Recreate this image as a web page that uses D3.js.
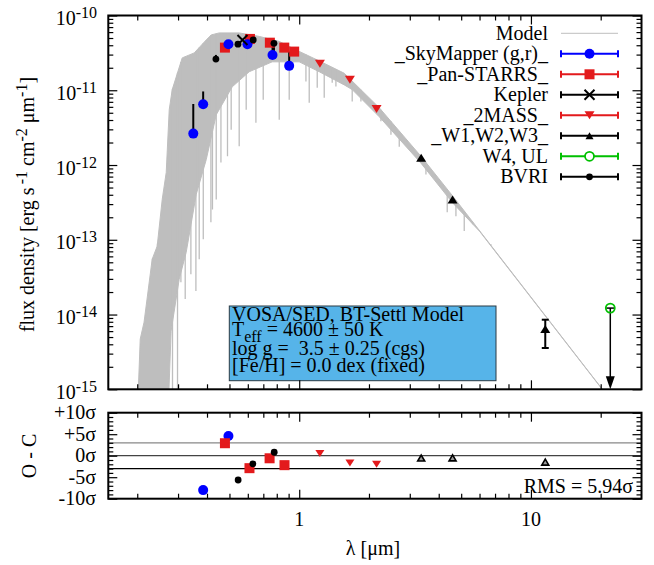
<!DOCTYPE html>
<html><head><meta charset="utf-8">
<script src="https://cdn.jsdelivr.net/npm/d3@7"></script>
<style>
body{margin:0;background:#fff}
svg{display:block}
text{font-family:"Liberation Serif","Times New Roman",serif;fill:#000}
</style>
</head><body>
<svg id="c" width="654" height="565"></svg>
<script>
// ---------------- data ----------------
// model spectrum: upper envelope (continuum) and lower envelope of the dense line forest
const modelHiWl = [0.2019,0.206,0.214,0.232,0.2438,0.2563,0.2667,0.2748,0.2831,0.3126,0.3523,0.3969,0.4172,0.4516,0.5508,0.6723,0.82,1.0,1.22,1.564,2.214,3.36,4.575,20.1,30];
const modelHi   = [9e-16,4.7e-15,7.9e-15,5.5e-14,8.2e-14,3.47e-13,7.94e-13,5.5e-12,1.02e-11,2.71e-11,3.16e-11,4.71e-11,5.5e-11,5.85e-11,5.85e-11,5.25e-11,4.5e-11,3.31e-11,2.47e-11,1.69e-11,5.85e-12,1.3e-12,3.92e-13,1.05e-15,2.1e-16];
const modelLoWl = [0.2019,0.2667,0.2800,0.3034,0.3253,0.3594,0.3969,0.4384,0.5138,0.6085,0.7647,1.0,1.22,1.564,1.693,2.214,3.36,4.575,6.0,30];
const modelLo   = [1e-16,1e-16,6e-15,2.97e-14,6.8e-14,4.05e-13,1.18e-12,4.7e-12,1.11e-11,1.77e-11,2.4e-11,2.4e-11,1.77e-11,1.18e-11,1.02e-11,4.43e-12,1.05e-12,3.16e-13,1.3e-13,2.1e-16];
// deep absorption lines (wavelength, minimum flux)
const lineWl   = [0.2327,0.2445,0.2839,0.2984,0.3086,0.3221,0.3408,0.3582,0.3702,0.3854,0.4158,0.4223,0.4384,0.4594,0.4903,0.5086,0.5508,0.5904,0.6503,0.6993,0.82,0.9054,1.069,1.1045,1.196,1.282,1.388,1.44,1.693,1.846,2.252,2.488,2.702,2.925,3.523,4.352,4.746,5.154,5.598,6.722];
const lineFlux = [5e-16,5e-16,5e-16,5e-16,2.7e-14,1.61e-14,3.47e-14,2.07e-14,5.5e-14,1.02e-13,1.71e-13,2.55e-13,3.47e-13,1.08e-12,1.31e-12,2.97e-12,1.78e-12,5.5e-12,3.69e-12,7.47e-12,4.04e-12,7.47e-12,1.31e-11,6.8e-12,1.08e-11,7.94e-12,1.26e-11,1.12e-11,7.1e-12,7.1e-12,3.84e-12,2.55e-12,1.75e-12,2.07e-12,7.47e-13,2.33e-13,2.07e-13,1.31e-13,1.61e-13,8.7e-14];

// photometry (µm, erg s-1 cm-2 µm-1)
const skyWl   = [0.349,0.385,0.495,0.598,0.767,0.905];
const skyFlux = [2.63e-12,6.5e-12,4.13e-11,4.13e-11,2.97e-11,2.12e-11];
const skyUp   = [6.55e-12,9.64e-12,null,null,4.48e-11,3.29e-11];
const panWl   = [0.478,0.613,0.747,0.862,0.951];
const panFlux = [3.72e-11,4.86e-11,4.33e-11,3.72e-11,3.29e-11];
const kepWl   = [0.569];
const kepFlux = [4.71e-11];
const tmWl    = [1.228,1.655,2.157];
const tmFlux  = [2.26e-11,1.38e-11,5.61e-12];
const wiseWl  = [3.36,4.59,11.53];
const wiseFlux= [1.25e-12,3.47e-13,6.41e-15];
const wiseLo  = [null,null,3.57e-15];
const wiseHi  = [null,null,8.53e-15];
const w4Wl    = [22.0];
const w4Flux  = [1.22e-14];
const bvriWl  = [0.437,0.544,0.633,0.778];
const bvriFlux= [2.61e-11,4.13e-11,4.71e-11,4.25e-11];
const bvriLo  = [null,null,null,3.0e-11];
const bvriHi  = [2.97e-11,null,null,null];

// residuals (O - C, in sigma)
const resSkyWl = [0.385,0.495];           const resSky = [-8.0,4.6];
const resPanWl = [0.478,0.61,0.745,0.864];  const resPan = [2.9,-2.9,-0.6,-2.2];
const resBvriWl= [0.545,0.631,0.78];       const resBvri= [-5.65,-1.9,0.8];
const res2mWl  = [1.228,1.655,2.157];      const res2m  = [0.5,-1.7,-2.0];
const resWiseWl= [3.36,4.59,11.53];        const resWise= [-0.55,-0.5,-1.5];
const rmsText = "RMS = 5.94σ";

const legendNames = ["Model","_SkyMapper (g,r)_","_Pan-STARRS_","Kepler","_2MASS_","_W1,W2,W3_","W4, UL","BVRI"];
const infoLines = ["VOSA/SED, BT-Settl Model","4600 ± 50 K","log g =\u00a0\u00a03.5 ± 0.25 (cgs)","[Fe/H] = 0.0 dex (fixed)"];
const yDecades = [-15,-14,-13,-12,-11,-10];
const resTicks = [10,5,0,-5,-10];
const resLabels = ["+10σ","+5σ","0σ","-5σ","-10σ"];
const xLabelTicks = [1,10];

// ---------------- layout ----------------
const L=108.3, R=641.5, T1=15.5, B1=389.3, T2=412.7, B2=498.7;
const BLUE="#0000ff", RED="#e31a1c", GREEN="#00c000", GRAY="#bebebe";

const x  = d3.scaleLog().domain([0.15,30]).range([L,R]);
const y  = d3.scaleLog().domain([1e-15,1e-10]).range([B1,T1]);
const yr = d3.scaleLinear().domain([-10,10]).range([B2,T2]);

const svg = d3.select("#c");
svg.append("defs").append("clipPath").attr("id","clip1")
  .append("rect").attr("x",L).attr("y",T1).attr("width",R-L).attr("height",B1-T1);

// ---------------- model ----------------
const gm = svg.append("g").attr("clip-path","url(#clip1)");
const lineGen = d3.line().x(d=>x(d[0])).y(d=>y(d[1]));
const hiPts = modelHiWl.map((w,i)=>[w,modelHi[i]]);
const loPts = modelLoWl.map((w,i)=>[w,modelLo[i]]);
gm.append("path").attr("d", lineGen(hiPts.concat(loPts.slice().reverse()))+"Z")
  .attr("fill",GRAY).attr("stroke",GRAY).attr("stroke-width",1);
const hiAt = d3.scaleLinear().domain(modelHiWl.map(w=>x(w))).range(modelHi.map(f=>y(f)));
gm.selectAll("line.spike").data(lineWl).join("line").attr("class","spike")
  .attr("x1",w=>x(w)).attr("x2",w=>x(w))
  .attr("y1",w=>hiAt(x(w))).attr("y2",(w,i)=>y(lineFlux[i]))
  .attr("stroke",GRAY).attr("stroke-width",1.3);

// ---------------- info box ----------------
const gb = svg.append("g");
gb.append("rect").attr("x",229.3).attr("y",306).attr("width",266.7).attr("height",74.7)
  .attr("fill","#56b4e9").attr("stroke","#2b3a44").attr("stroke-width",1);
const tx=232;
const it = gb.append("text").attr("x",tx).attr("y",320.7).attr("font-size",20);
it.append("tspan").attr("x",tx).text(infoLines[0]);
it.append("tspan").attr("x",tx).attr("dy",15).text("T");
it.append("tspan").attr("dy",6).attr("font-size",16).text("eff");
it.append("tspan").attr("dy",-6).text(" = "+infoLines[1]);
it.append("tspan").attr("x",tx).attr("dy",19.3).text(infoLines[2]);
it.append("tspan").attr("x",tx).attr("dy",16.7).text(infoLines[3]);

// ---------------- markers ----------------
function circ(g,cx,cy,r,fill,stroke,sw){g.append("circle").attr("cx",cx).attr("cy",cy).attr("r",r).attr("fill",fill).attr("stroke",stroke||"none").attr("stroke-width",sw||0);}
function sq(g,cx,cy,s,fill){g.append("rect").attr("x",cx-s/2).attr("y",cy-s/2).attr("width",s).attr("height",s).attr("fill",fill);}
function cross(g,cx,cy,s){const h=s/2;g.append("path").attr("d",`M${cx-h},${cy-h}L${cx+h},${cy+h}M${cx-h},${cy+h}L${cx+h},${cy-h}`).attr("stroke","#000").attr("stroke-width",2).attr("fill","none");}
function triDown(g,cx,cy,w,h,fill){g.append("path").attr("d",`M${cx-w/2},${cy-h/2}L${cx+w/2},${cy-h/2}L${cx},${cy+h/2}Z`).attr("fill",fill);}
function triUp(g,cx,cy,w,h,fill,stroke,sw){g.append("path").attr("d",`M${cx-w/2},${cy+h/2}L${cx+w/2},${cy+h/2}L${cx},${cy-h/2}Z`).attr("fill",fill).attr("stroke",stroke||"none").attr("stroke-width",sw||0);}
function vbar(g,xx,y1,y2,cap){g.append("line").attr("x1",xx).attr("x2",xx).attr("y1",y1).attr("y2",y2).attr("stroke","#000").attr("stroke-width",2);
  if(cap){[y1,y2].forEach(yy=>g.append("line").attr("x1",xx-cap/2).attr("x2",xx+cap/2).attr("y1",yy).attr("y2",yy).attr("stroke","#000").attr("stroke-width",2));}}

const gp = svg.append("g");
// error bars
skyWl.forEach((w,i)=>{ if(skyUp[i]) vbar(gp,x(w),y(skyFlux[i]),y(skyUp[i])); });
bvriWl.forEach((w,i)=>{ if(bvriHi[i]) vbar(gp,x(w),y(bvriFlux[i]),y(bvriHi[i])); if(bvriLo[i]) vbar(gp,x(w),y(bvriFlux[i]),y(bvriLo[i])); });
wiseWl.forEach((w,i)=>{ if(wiseLo[i]) vbar(gp,x(w),y(wiseLo[i]),y(wiseHi[i]),7); });
// W4 upper limit arrow
w4Wl.forEach((w,i)=>{
  const xx=x(w), yy=y(w4Flux[i]);
  gp.append("line").attr("x1",xx).attr("x2",xx).attr("y1",yy).attr("y2",B1-12).attr("stroke","#000").attr("stroke-width",1.5);
  gp.append("path").attr("d",`M${xx-4.5},${B1-13}L${xx+4.5},${B1-13}L${xx},${B1}Z`).attr("fill","#000");
  gp.append("line").attr("x1",xx-4).attr("x2",xx+4).attr("y1",yy).attr("y2",yy).attr("stroke","#000").attr("stroke-width",1.5);
  circ(gp,xx,yy,4.5,"none",GREEN,1.8);
});
panWl.forEach((w,i)=>sq(gp,x(w),y(panFlux[i]),10,RED));
skyWl.forEach((w,i)=>circ(gp,x(w),y(skyFlux[i]),5,BLUE));
bvriWl.forEach((w,i)=>circ(gp,x(w),y(bvriFlux[i]),3.4,"#000"));
kepWl.forEach((w,i)=>cross(gp,x(w),y(kepFlux[i]),10));
tmWl.forEach((w,i)=>triDown(gp,x(w),y(tmFlux[i]),10,8,RED));
wiseWl.forEach((w,i)=>triUp(gp,x(w),y(wiseFlux[i]),10,8,"#000"));

// ---------------- residual panel ----------------
const gr = svg.append("g");
[[3,"#888"],[0,"#444"],[-3,"#000"]].forEach(([v,c])=>gr.append("line").attr("x1",L).attr("x2",R).attr("y1",yr(v)).attr("y2",yr(v)).attr("stroke",c).attr("stroke-width",1.2));
resSkyWl.forEach((w,i)=>circ(gr,x(w),yr(resSky[i]),5,BLUE));
resPanWl.forEach((w,i)=>sq(gr,x(w),yr(resPan[i]),10,RED));
resBvriWl.forEach((w,i)=>circ(gr,x(w),yr(resBvri[i]),3.4,"#000"));
res2mWl.forEach((w,i)=>triDown(gr,x(w),yr(res2m[i]),9,7,RED));
resWiseWl.forEach((w,i)=>triUp(gr,x(w),yr(resWise[i]),7,6,"#999","#000",1.6));
gr.append("text").attr("x",633).attr("y",493).attr("font-size",20).attr("text-anchor","end").text(rmsText);

// ---------------- axes / ticks ----------------
const xMinor=[0.2,0.3,0.4,0.5,0.6,0.7,0.8,0.9,2,3,4,5,6,7,8,9,20];
const xMajor=[1,10];
const yMinor=[]; yDecades.slice(0,-1).forEach(d=>{for(let k=2;k<=9;k++) yMinor.push(k*Math.pow(10,d));});
const yMajor=yDecades.map(d=>Math.pow(10,d));
const rMinor=d3.range(-10,11).filter(v=>v%5!==0);
function ax(axisFn,scale,vals,size,tr){
  const g=svg.append("g").attr("transform",tr).call(axisFn(scale).tickValues(vals).tickSize(size).tickFormat(""));
  g.select(".domain").remove(); g.selectAll("line").attr("stroke-width",1.2);
}
[[B1,T1],[B2,T2]].forEach(([b,t])=>{
  ax(d3.axisBottom,x,xMinor,-5,`translate(0,${b})`);
  ax(d3.axisBottom,x,xMajor,-9,`translate(0,${b})`);
  ax(d3.axisTop,x,xMinor,-5,`translate(0,${t})`);
  ax(d3.axisTop,x,xMajor,-9,`translate(0,${t})`);
});
ax(d3.axisLeft,y,yMinor,-5,`translate(${L},0)`);
ax(d3.axisLeft,y,yMajor,-9,`translate(${L},0)`);
ax(d3.axisRight,y,yMinor,-5,`translate(${R},0)`);
ax(d3.axisRight,y,yMajor,-9,`translate(${R},0)`);
ax(d3.axisLeft,yr,rMinor,-5,`translate(${L},0)`);
ax(d3.axisLeft,yr,resTicks,-9,`translate(${L},0)`);
ax(d3.axisRight,yr,rMinor,-5,`translate(${R},0)`);
ax(d3.axisRight,yr,resTicks,-9,`translate(${R},0)`);

// frames
svg.append("rect").attr("x",L).attr("y",T1).attr("width",R-L).attr("height",B1-T1).attr("fill","none").attr("stroke","#000").attr("stroke-width",2);
svg.append("rect").attr("x",L).attr("y",T2).attr("width",R-L).attr("height",B2-T2).attr("fill","none").attr("stroke","#000").attr("stroke-width",2);

// tick labels
yDecades.forEach(d=>{
  const t=svg.append("text").attr("x",97).attr("y",y(Math.pow(10,d))+9.5).attr("font-size",20).attr("text-anchor","end");
  t.append("tspan").text("10");
  t.append("tspan").attr("dy",-7).attr("font-size",16).text("-"+Math.abs(d));
});
resTicks.forEach((v,i)=>svg.append("text").attr("x",96).attr("y",yr(v)+6.5).attr("font-size",20).attr("text-anchor","end").text(resLabels[i]));
xLabelTicks.forEach(v=>svg.append("text").attr("x",x(v)).attr("y",526).attr("font-size",20).attr("text-anchor","middle").text(v));

// axis titles
const yl=svg.append("text").attr("transform","translate(33.5,204.5) rotate(-90)").attr("font-size",20).attr("text-anchor","middle");
yl.append("tspan").text("flux density [erg s");
yl.append("tspan").attr("dy",-7).attr("font-size",16).text("\u2009-1");
yl.append("tspan").attr("dy",7).text(" cm");
yl.append("tspan").attr("dy",-7).attr("font-size",16).text("-2");
yl.append("tspan").attr("dy",7).text(" μm");
yl.append("tspan").attr("dy",-7).attr("font-size",16).text("-1");
yl.append("tspan").attr("dy",7).text("]");
svg.append("text").attr("transform","translate(35.5,456) rotate(-90)").attr("font-size",20).attr("text-anchor","middle").text("O - C");
svg.append("text").attr("x",373).attr("y",555).attr("font-size",20).attr("text-anchor","middle").text("λ [μm]");

// ---------------- legend ----------------
const lg=svg.append("g");
const ly0=33.3, lstep=20.5, lx1=561, lx2=618, lmx=589.5;
const legendColors=[GRAY,BLUE,RED,"#000",RED,"#000",GREEN,"#000"];
legendNames.forEach((n,i)=>{
  const yy=ly0+i*lstep;
  lg.append("text").attr("x",548).attr("y",yy+6.5).attr("font-size",20).attr("text-anchor","end").text(n);
  if(i===0){ lg.append("line").attr("x1",lx1).attr("x2",lx2).attr("y1",yy).attr("y2",yy).attr("stroke",GRAY).attr("stroke-width",1); return; }
  const c=legendColors[i];
  lg.append("path").attr("d",`M${lx1},${yy}H${lx2}M${lx1},${yy-3.5}V${yy+3.5}M${lx2},${yy-3.5}V${yy+3.5}`).attr("stroke",c).attr("stroke-width",2).attr("fill","none");
  if(i===1) circ(lg,lmx,yy,5,BLUE);
  if(i===2) sq(lg,lmx,yy,10,RED);
  if(i===3) cross(lg,lmx,yy,10);
  if(i===4) triDown(lg,lmx,yy,10,8,RED);
  if(i===5) triUp(lg,lmx,yy,8,7,"#000");
  if(i===6) circ(lg,lmx,yy,4.5,"#fff",GREEN,1.8);
  if(i===7) circ(lg,lmx,yy,3.4,"#000");
});
</script>
</body></html>
